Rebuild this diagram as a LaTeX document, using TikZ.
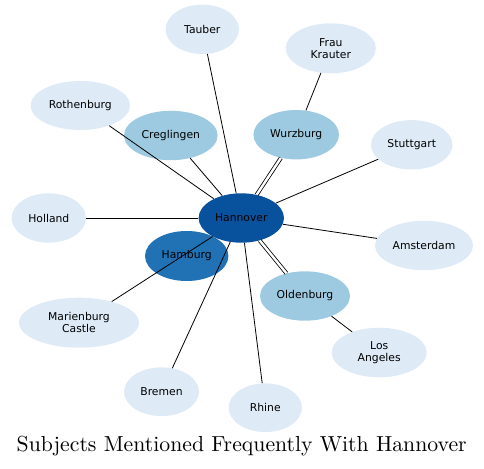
\documentclass[tikz,border=0pt]{standalone}
\usepackage{fontspec}
\newfontfamily\dvsans{DejaVu Sans}
\usetikzlibrary{shapes.geometric}
\definecolor{bA}{HTML}{DEEBF7}
\definecolor{bB}{HTML}{9ECAE1}
\definecolor{bC}{HTML}{2171B5}
\definecolor{bD}{HTML}{08519C}
\tikzset{
  ell/.style={ellipse, inner sep=0pt, text=black, align=center,
    font=\dvsans\fontsize{10.8}{12}\selectfont},
  lvA/.style={ell, fill=bA},
  lvB/.style={ell, fill=bB},
  lvC/.style={ell, fill=bC},
  lvD/.style={ell, fill=bD},
  edge/.style={draw=black, line width=0.8pt},
  dedge/.style={draw=black, line width=0.8pt, double=white, double distance=2.4pt},
}
\begin{document}
\begin{tikzpicture}[x=1pt, y=-1pt]
\useasboundingbox (0,0) rectangle (484,468);
\node[lvA, minimum width=73.4pt, minimum height=49.4pt] (tau) at (202.3,29.3) {Tauber};
\node[lvA, minimum width=90pt, minimum height=50pt] (fra) at (330.8,48.3) {Frau\\Krauter};
\node[lvA, minimum width=99.4pt, minimum height=49pt] (rot) at (80.3,105.5) {Rothenburg};
\node[lvB, minimum width=93.6pt, minimum height=49.4pt] (cre) at (170.8,135.5) {Creglingen};
\node[lvB, minimum width=85.6pt, minimum height=49.4pt] (wur) at (296.2,134.7) {Wurzburg};
\node[lvA, minimum width=81.4pt, minimum height=49.4pt] (stu) at (411.7,144.8) {Stuttgart};
\node[lvA, minimum width=74.4pt, minimum height=49.4pt] (hol) at (48.8,218) {Holland};
\node[lvA, minimum width=98pt, minimum height=49.4pt] (ams) at (424,245.5) {Amsterdam};
\node[lvC, minimum width=83.4pt, minimum height=50pt] (ham) at (186.7,256) {Hamburg};
\node[lvD, minimum width=85.4pt, minimum height=49.4pt] (han) at (241.3,218) {Hannover};
\node[lvB, minimum width=90pt, minimum height=49.4pt] (old) at (305,296) {Oldenburg};
\node[lvA, minimum width=120pt, minimum height=50pt] (mar) at (79,322.7) {Marienburg\\Castle};
\node[lvA, minimum width=95pt, minimum height=49.6pt] (los) at (379.2,352.5) {Los\\Angeles};
\node[lvA, minimum width=75pt, minimum height=48.7pt] (bre) at (161.5,391.7) {Bremen};
\node[lvA, minimum width=73.4pt, minimum height=48.7pt] (rhi) at (265.3,407.7) {Rhine};
\node[anchor=base, inner sep=0pt] (title) at (241.7,451.7)
  {\resizebox{450pt}{!}{Subjects Mentioned Frequently With Hannover}};
\draw[edge] (han) -- (tau);
\draw[edge] (han) -- (rot);
\draw[edge] (han) -- (cre);
\draw[dedge] (han) -- (wur);
\draw[edge] (wur) -- (fra);
\draw[edge] (han) -- (stu);
\draw[edge] (han) -- (hol);
\draw[edge] (han) -- (ams);
\draw[dedge] (han) -- (old);
\draw[edge] (old) -- (los);
\draw[edge] (han) -- (mar);
\draw[edge] (han) -- (bre);
\draw[edge] (han) -- (rhi);
\end{tikzpicture}
\end{document}
